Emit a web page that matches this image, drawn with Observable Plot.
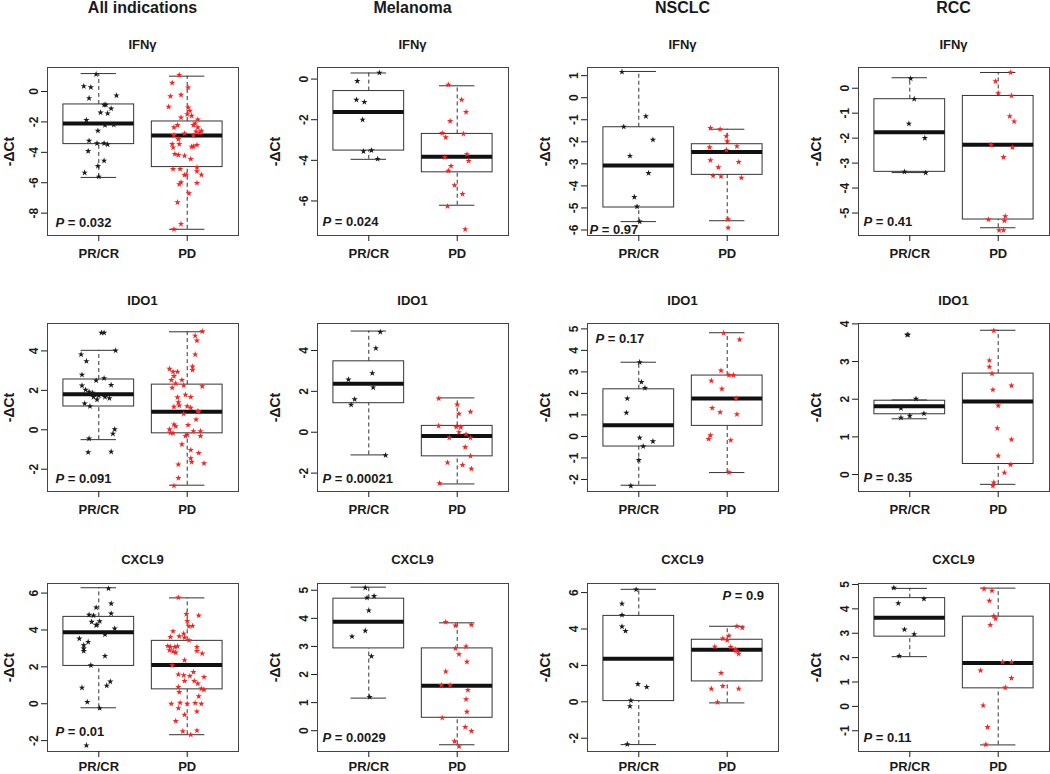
<!DOCTYPE html>
<html><head><meta charset="utf-8">
<script src="https://cdn.jsdelivr.net/npm/d3@7"></script>
<script src="https://cdn.jsdelivr.net/npm/@observablehq/plot@0.6"></script>
<style>
html,body{margin:0;padding:0;background:#fff;overflow:hidden}
#root{position:relative;width:1050px;height:774px;font-family:"Liberation Sans",Arial,sans-serif;overflow:hidden}
.panel{position:absolute}
#overlay{position:absolute;left:0;top:0;pointer-events:none}
</style></head><body><div id="root"></div>
<script>
// ---- categories / labels ----
const groups = ["PR/CR", "PD"];
const indications = ["All indications", "Melanoma", "NSCLC", "RCC"];
const markers = ["IFNγ", "IDO1", "CXCL9"];
const pValues = ["0.032","0.024","0.97","0.41","0.091","0.00021","0.17","0.35","0.01","0.0029","0.9","0.11"];

// ---- points: [jitter, -ΔCt] ----
const ifngAllPR = [[-0.03,1.14],[-0.17,0.35],[-0.09,0.28],[0.20,-0.26],[-0.11,-0.44],[0.06,-0.88],[0.08,-0.88],[0.14,-1.12],[0.02,-1.38],[0.10,-1.44],[-0.14,-1.88],[0.07,-2.21],[0.17,-2.19],[-0.01,-2.58],[-0.11,-3.24],[-0.02,-3.41],[0.06,-3.41],[0.10,-3.48],[-0.12,-3.92],[0.06,-4.55],[-0.01,-4.90],[-0.16,-5.34],[0.00,-5.60]];
const ifngAllPD = [[-0.09,1.09],[-0.17,0.57],[0.01,0.26],[-0.19,-0.31],[-0.07,-0.22],[-0.21,-1.01],[0.01,-1.05],[0.03,-1.27],[0.00,-1.49],[-0.07,-1.71],[0.05,-1.60],[0.12,-1.84],[-0.15,-2.36],[-0.11,-2.21],[0.09,-2.10],[0.12,-2.36],[0.07,-2.21],[0.10,-2.63],[0.16,-2.58],[0.14,-2.71],[-0.03,-2.76],[-0.15,-2.87],[0.07,-2.89],[-0.10,-3.13],[-0.17,-3.46],[-0.16,-3.68],[-0.09,-3.46],[-0.14,-4.11],[-0.03,-4.22],[0.05,-3.63],[0.07,-3.61],[0.11,-3.52],[-0.10,-4.18],[0.04,-4.44],[0.11,-4.99],[-0.16,-5.10],[-0.08,-5.10],[0.11,-5.25],[0.16,-5.47],[-0.01,-5.47],[-0.03,-5.49],[-0.07,-5.97],[0.11,-6.02],[-0.09,-6.10],[0.02,-6.70],[-0.11,-7.29],[-0.07,-8.71],[-0.15,-9.06]];
const ifngMelPR = [[0.12,0.31],[-0.13,-0.10],[-0.14,-1.02],[-0.05,-1.13],[-0.07,-2.00],[-0.06,-3.56],[0.03,-3.51],[0.10,-3.93]];
const ifngMelPD = [[-0.10,-0.28],[0.05,-1.02],[0.10,-1.62],[-0.08,-2.07],[-0.17,-2.66],[-0.13,-2.87],[0.07,-2.69],[-0.14,-3.85],[0.11,-3.70],[0.13,-4.03],[-0.07,-4.28],[-0.10,-4.52],[-0.03,-5.23],[0.06,-5.66],[-0.11,-6.26],[0.09,-7.39]];
const ifngNscPR = [[-0.19,1.17],[0.08,-0.84],[-0.17,-1.32],[0.16,-1.91],[-0.10,-2.64],[0.11,-3.42],[-0.05,-4.51],[-0.02,-4.94],[0.01,-5.62]];
const ifngNscPD = [[-0.19,-1.38],[-0.08,-1.43],[-0.01,-1.75],[0.00,-1.98],[-0.20,-2.25],[0.11,-2.20],[-0.01,-2.37],[-0.19,-2.84],[0.13,-2.92],[-0.10,-3.16],[-0.16,-3.54],[-0.07,-3.57],[0.16,-3.63],[0.01,-5.52],[0.01,-5.90]];
const ifngRccPR = [[0.01,0.39],[0.05,-0.43],[-0.01,-1.42],[0.17,-2.00],[-0.06,-3.35],[0.18,-3.39]];
const ifngRccPD = [[0.14,0.63],[-0.03,0.28],[0.00,-0.20],[0.15,-0.30],[0.13,-1.12],[0.18,-1.33],[-0.08,-2.27],[0.16,-2.37],[0.06,-2.76],[-0.11,-5.26],[0.08,-5.13],[0.07,-5.31],[0.01,-5.69],[0.06,-5.69]];

const ido1AllPR = [[0.03,4.92],[0.06,4.92],[0.19,4.02],[-0.20,3.82],[-0.14,3.48],[-0.19,2.79],[-0.03,2.50],[0.06,2.61],[-0.19,2.24],[0.14,2.27],[-0.15,2.03],[-0.11,1.93],[-0.07,1.87],[0.00,1.73],[0.07,1.66],[0.12,1.60],[-0.06,1.66],[-0.02,1.53],[-0.16,1.33],[-0.10,1.19],[0.18,0.02],[0.16,-0.20],[-0.11,-0.45],[-0.12,-1.14],[0.14,-1.11]];
const ido1AllPD = [[0.17,4.99],[0.09,4.77],[0.11,4.52],[0.09,3.82],[0.06,3.21],[0.06,3.03],[-0.20,3.09],[-0.16,2.94],[-0.11,2.94],[-0.15,2.72],[-0.18,2.52],[-0.06,2.52],[-0.13,2.35],[-0.04,2.25],[0.17,2.20],[-0.17,2.13],[-0.11,1.65],[-0.02,1.78],[0.04,1.66],[-0.10,1.39],[-0.09,1.23],[-0.15,1.16],[0.00,1.19],[0.04,1.11],[0.12,0.94],[0.13,0.91],[-0.04,0.81],[0.10,0.52],[-0.15,0.27],[0.01,0.24],[-0.13,0.18],[-0.20,0.02],[-0.19,-0.15],[-0.16,-0.18],[-0.02,-0.32],[0.07,-0.07],[0.15,-0.07],[0.00,-0.25],[0.15,-0.32],[-0.06,-0.74],[0.04,-1.03],[0.13,-1.18],[0.04,-1.45],[0.05,-1.63],[0.19,-1.70],[-0.10,-1.76],[-0.10,-2.45],[-0.15,-2.84]];
const ido1MelPR = [[0.13,4.90],[0.08,4.11],[0.04,2.89],[-0.23,2.58],[0.05,2.19],[-0.16,1.61],[-0.20,1.34],[0.19,-1.13]];
const ido1MelPD = [[-0.21,1.65],[0.00,1.35],[0.15,1.00],[0.02,0.90],[-0.21,0.31],[-0.01,0.26],[0.04,0.24],[0.02,0.00],[0.10,-0.10],[-0.09,-0.27],[0.15,-0.27],[0.09,-0.73],[0.15,-1.16],[-0.11,-1.48],[0.06,-1.60],[0.16,-1.79],[-0.20,-2.50]];
const ido1NscPR = [[0.01,3.45],[0.03,2.53],[0.07,2.25],[-0.13,1.76],[-0.14,1.10],[0.01,-0.06],[0.16,-0.23],[0.05,-0.46],[0.00,-1.10],[-0.09,-2.30]];
const ido1NscPD = [[-0.04,4.81],[0.14,4.50],[-0.07,3.06],[0.02,2.85],[0.07,2.85],[-0.18,2.59],[-0.06,2.21],[0.10,1.76],[-0.17,1.32],[-0.08,1.12],[0.11,1.03],[-0.19,0.05],[-0.21,-0.12],[0.04,-0.18],[0.02,-1.67]];
const ido1RccPR = [[-0.03,3.71],[-0.02,3.71],[0.07,2.01],[-0.10,1.76],[0.00,1.56],[-0.10,1.51],[0.16,1.62]];
const ido1RccPD = [[-0.05,3.82],[-0.10,3.03],[-0.10,2.86],[-0.07,2.68],[0.15,2.36],[-0.06,2.25],[0.00,1.83],[-0.01,1.23],[0.15,0.93],[0.00,0.50],[0.14,0.26],[0.07,0.05],[-0.05,-0.21],[-0.06,-0.30]];

const cxcl9AllPR = [[0.11,6.25],[0.14,5.43],[-0.03,5.22],[-0.11,4.82],[-0.06,4.78],[0.14,4.89],[-0.08,4.44],[0.01,4.47],[-0.03,4.26],[-0.02,4.28],[0.18,4.08],[0.07,3.75],[-0.22,3.53],[-0.12,3.35],[-0.17,3.17],[-0.17,2.99],[-0.17,2.86],[0.07,2.59],[-0.09,2.08],[-0.19,0.87],[0.13,1.20],[0.09,0.98],[-0.13,0.09],[0.01,-0.24],[-0.14,-2.26]];
const cxcl9AllPD = [[-0.10,5.76],[-0.01,4.86],[0.13,4.78],[0.00,4.49],[0.02,4.20],[0.06,4.22],[-0.16,3.93],[-0.04,3.80],[-0.19,3.62],[-0.09,3.66],[-0.03,3.59],[0.02,3.44],[-0.22,3.13],[-0.19,3.08],[-0.14,3.08],[-0.11,3.12],[0.11,3.08],[-0.20,2.90],[-0.16,2.83],[-0.13,2.77],[0.11,2.86],[0.17,2.72],[-0.03,2.36],[-0.17,2.08],[-0.10,1.59],[-0.04,1.54],[0.03,1.50],[0.07,1.72],[0.19,1.45],[-0.03,1.23],[0.08,1.23],[0.12,1.09],[-0.10,0.91],[0.16,0.82],[0.19,0.76],[-0.09,0.63],[0.13,0.40],[-0.18,0.00],[-0.08,0.05],[0.00,0.00],[0.09,0.04],[0.16,0.00],[-0.10,-0.24],[0.11,-0.42],[-0.03,-0.60],[-0.13,-0.94],[-0.05,-1.49],[0.11,-1.45],[0.04,-1.68]];
const cxcl9MelPR = [[-0.04,5.09],[-0.02,4.73],[0.06,4.79],[0.00,4.28],[-0.04,3.56],[-0.19,3.35],[0.03,2.65],[0.01,1.20]];
const cxcl9MelPD = [[-0.13,3.87],[-0.02,3.74],[0.16,3.77],[-0.02,2.93],[0.10,3.00],[0.02,2.72],[0.11,2.45],[-0.13,2.11],[-0.18,1.62],[-0.08,1.62],[0.12,1.45],[0.10,1.12],[0.11,0.67],[-0.17,0.46],[0.09,0.13],[0.16,-0.01],[-0.03,-0.38],[0.02,-0.56]];
const cxcl9NscPR = [[-0.03,6.17],[-0.19,5.39],[-0.19,4.77],[-0.19,4.13],[-0.15,3.89],[-0.01,0.97],[0.09,0.81],[-0.09,0.07],[-0.10,-0.24],[-0.13,-2.33]];
const cxcl9NscPD = [[0.11,4.15],[0.17,4.07],[0.02,3.63],[-0.05,3.47],[0.00,3.38],[-0.14,3.03],[0.04,3.01],[0.09,2.88],[0.10,2.79],[0.13,2.64],[-0.07,1.58],[-0.18,0.72],[-0.05,0.86],[0.13,0.72],[-0.11,-0.02]];
const cxcl9RccPR = [[-0.18,4.86],[-0.13,4.23],[0.16,4.41],[-0.06,3.15],[0.05,2.96],[-0.12,2.07]];
const cxcl9RccPD = [[-0.16,4.82],[-0.07,4.74],[-0.10,4.33],[-0.05,3.71],[-0.03,3.60],[-0.09,3.34],[0.05,1.82],[0.15,1.82],[-0.20,1.47],[0.15,1.16],[0.08,0.77],[-0.17,0.04],[-0.12,-0.85],[-0.14,-1.56]];

// ---- box statistics: [lower whisker, Q1, median, Q3, upper whisker] for PR/CR, PD ----
const ifngAllBox  = [[-5.65,-3.46,-2.10,-0.85,1.18],[-9.06,-4.97,-2.89,-1.97,1.01]];
const ifngMelBox  = [[-3.95,-3.52,-1.62,-0.59,0.30],[-6.21,-4.59,-3.82,-2.70,-0.33]];
const ifngNscBox  = [[-5.62,-4.98,-3.07,-1.34,1.19],[-5.58,-3.50,-2.46,-2.11,-1.43]];
const ifngRccBox  = [[-3.38,-3.35,-1.76,-0.44,0.42],[-5.59,-5.26,-2.26,-0.31,0.63]];
const ido1AllBox  = [[-0.50,1.18,1.80,2.55,4.03],[-2.81,-0.18,0.91,2.29,4.97]];
const ido1MelBox  = [[-1.11,1.42,2.37,3.47,4.95],[-2.53,-1.18,-0.18,0.31,1.68]];
const ido1NscBox  = [[-2.27,-0.47,0.52,2.19,3.45],[-1.68,0.49,1.76,2.83,4.82]];
const ido1RccBox  = [[1.48,1.60,1.81,1.96,1.98],[-0.26,0.28,1.94,2.68,3.83]];
const cxcl9AllBox = [[-0.22,2.05,3.88,4.71,6.29],[-1.68,0.78,2.10,3.41,5.74]];
const cxcl9MelBox = [[1.16,2.93,3.88,4.70,5.11],[-0.50,0.46,1.60,2.93,3.84]];
const cxcl9NscBox = [[-2.35,0.04,2.37,4.72,6.18],[-0.06,1.12,2.86,3.41,4.15]];
const cxcl9RccBox = [[2.04,2.86,3.64,4.44,4.84],[-1.58,0.74,1.78,3.68,4.85]];

// ---- y axes ----
const yDomains = [[-9.47,1.58],[-7.70,0.57],[-6.25,1.37],[-5.90,0.83],[-3.13,5.39],[-2.90,5.32],[-2.56,5.25],[-0.45,4.01],[-2.59,6.52],[-0.74,5.24],[-2.73,6.50],[-1.85,5.04]];
const yTicks = [[-8,-6,-4,-2,0],[-6,-4,-2,0],[-6,-5,-4,-3,-2,-1,0,1],[-5,-4,-3,-2,-1,0],[-2,0,2,4],[-2,0,2,4],[-2,-1,0,1,2,3,4,5],[0,1,2,3,4],[-2,0,2,4,6],[0,1,2,3,4,5],[-2,0,2,4,6],[-1,0,1,2,3,4,5]];

const pointSets = [
  [ifngAllPR, ifngAllPD],[ifngMelPR, ifngMelPD],[ifngNscPR, ifngNscPD],[ifngRccPR, ifngRccPD],
  [ido1AllPR, ido1AllPD],[ido1MelPR, ido1MelPD],[ido1NscPR, ido1NscPD],[ido1RccPR, ido1RccPD],
  [cxcl9AllPR, cxcl9AllPD],[cxcl9MelPR, cxcl9MelPD],[cxcl9NscPR, cxcl9NscPD],[cxcl9RccPR, cxcl9RccPD]
];
const boxSets = [ifngAllBox, ifngMelBox, ifngNscBox, ifngRccBox, ido1AllBox, ido1MelBox, ido1NscBox, ido1RccBox, cxcl9AllBox, cxcl9MelBox, cxcl9NscBox, cxcl9RccBox];

// ---- layout ----
const FRAME_W = 191, FRAME_H = 168;
const M = {left: 56, right: 4, top: 4, bottom: 34};
const colLeft = [47, 317, 587, 858];
const labelOffsets = [43, 47, 47, 47];
const rowTop = [67, 323, 583];
const xPad = [7, 7, 4];
const titleBase = [48.5, 305, 563.5];
const colTitleBase = 12.5;
// P label placement: [edge, dx from frame left, dy of text centre from that edge]
const pPlace = [["bottom",8,-13],["bottom",5,-14],["bottom",2,-6],["bottom",5,-14],
                ["bottom",8,-13],["bottom",5,-13],["top",8,15],["bottom",5,-14],
                ["bottom",8,-20],["bottom",5,-14],["top",135,12],["bottom",5,-14]];
const HALF = 0.4, CAP = 0.2;
const INK = "#333";
const FONT = '"Liberation Sans", Arial, sans-serif';

const root = document.getElementById("root");

for (let k = 0; k < 12; k++) {
  const r = Math.floor(k / 4), c = k % 4;
  const [prPts, pdPts] = pointSets[k];
  const pr = prPts.map(([j, v]) => ({x: 1 + j, v}));
  const pd = pdPts.map(([j, v]) => ({x: 2 + j, v}));
  const stats = boxSets[k].map((s, i) => ({pos: i + 1, lo: s[0], q1: s[1], med: s[2], q3: s[3], hi: s[4]}));
  const [edge, pdx, pdy] = pPlace[k];
  const fa = edge === "top" ? "top-left" : "bottom-left";
  const chart = Plot.plot({
    width: FRAME_W + M.left + M.right,
    height: FRAME_H + M.top + M.bottom,
    marginLeft: M.left, marginRight: M.right, marginTop: M.top, marginBottom: M.bottom,
    style: {fontFamily: FONT, fontSize: "12px", fontWeight: "bold", color: "#1a1a1a", background: "transparent", overflow: "visible", maxWidth: "none"},
    x: {domain: [0.42, 2.58]},
    y: {domain: yDomains[k]},
    marks: [
      Plot.ruleX(stats, {x: "pos", y1: "q3", y2: "hi", stroke: INK, strokeDasharray: "4,3"}),
      Plot.ruleX(stats, {x: "pos", y1: "lo", y2: "q1", stroke: INK, strokeDasharray: "4,3"}),
      Plot.ruleY(stats, {y: "hi", x1: d => d.pos - CAP, x2: d => d.pos + CAP, stroke: INK}),
      Plot.ruleY(stats, {y: "lo", x1: d => d.pos - CAP, x2: d => d.pos + CAP, stroke: INK}),
      Plot.rect(stats, {x1: d => d.pos - HALF, x2: d => d.pos + HALF, y1: "q1", y2: "q3", fill: "none", stroke: INK}),
      Plot.ruleY(stats, {y: "med", x1: d => d.pos - HALF, x2: d => d.pos + HALF, stroke: "#111", strokeWidth: 4}),
      Plot.dot(pr, {x: "x", y: "v", symbol: "star", r: 2, fill: "#1a1a1a", stroke: "none"}),
      Plot.dot(pd, {x: "x", y: "v", symbol: "star", r: 2, fill: "#ff1f1f", stroke: "none"}),
      Plot.frame({stroke: "#444"}),
      Plot.axisY({ticks: yTicks[k], tickFormat: d => String(d), tickSize: 6, tickPadding: 4, tickRotate: -90,
                  label: "-ΔCt", labelAnchor: "center", labelArrow: "none", labelOffset: labelOffsets[c], fontSize: 12}),
      Plot.axisX({ticks: [1, 2], tickFormat: d => groups[d - 1], tickSize: 6, tickPadding: xPad[r], label: null, fontSize: 13}),
      Plot.text(["P"], {frameAnchor: fa, dx: pdx, dy: pdy, textAnchor: "start", lineAnchor: "middle", fontStyle: "italic", fontSize: 13}),
      Plot.text(["= " + pValues[k]], {frameAnchor: fa, dx: pdx + 12.3, dy: pdy, textAnchor: "start", lineAnchor: "middle", fontSize: 13})
    ]
  });
  d3.select(chart).selectAll('[aria-label="y-axis label"] text').style("font-size", "14px");
  const wrap = document.createElement("div");
  wrap.className = "panel";
  wrap.style.left = (colLeft[c] - M.left) + "px";
  wrap.style.top = (rowTop[r] - M.top) + "px";
  wrap.appendChild(chart);
  root.appendChild(wrap);
}

// titles overlay
const ov = d3.select(root).append("svg").attr("id", "overlay").attr("width", 1050).attr("height", 774)
  .style("font-family", FONT).style("font-weight", "bold").attr("fill", "#1a1a1a");
indications.forEach((t, c) => {
  ov.append("text").attr("x", colLeft[c] + FRAME_W / 2).attr("y", colTitleBase)
    .attr("text-anchor", "middle").attr("font-size", 16).text(t);
});
markers.forEach((m, r) => {
  colLeft.forEach(x0 => {
    ov.append("text").attr("x", x0 + FRAME_W / 2).attr("y", titleBase[r])
      .attr("text-anchor", "middle").attr("font-size", 13).text(m);
  });
});
</script></body></html>
